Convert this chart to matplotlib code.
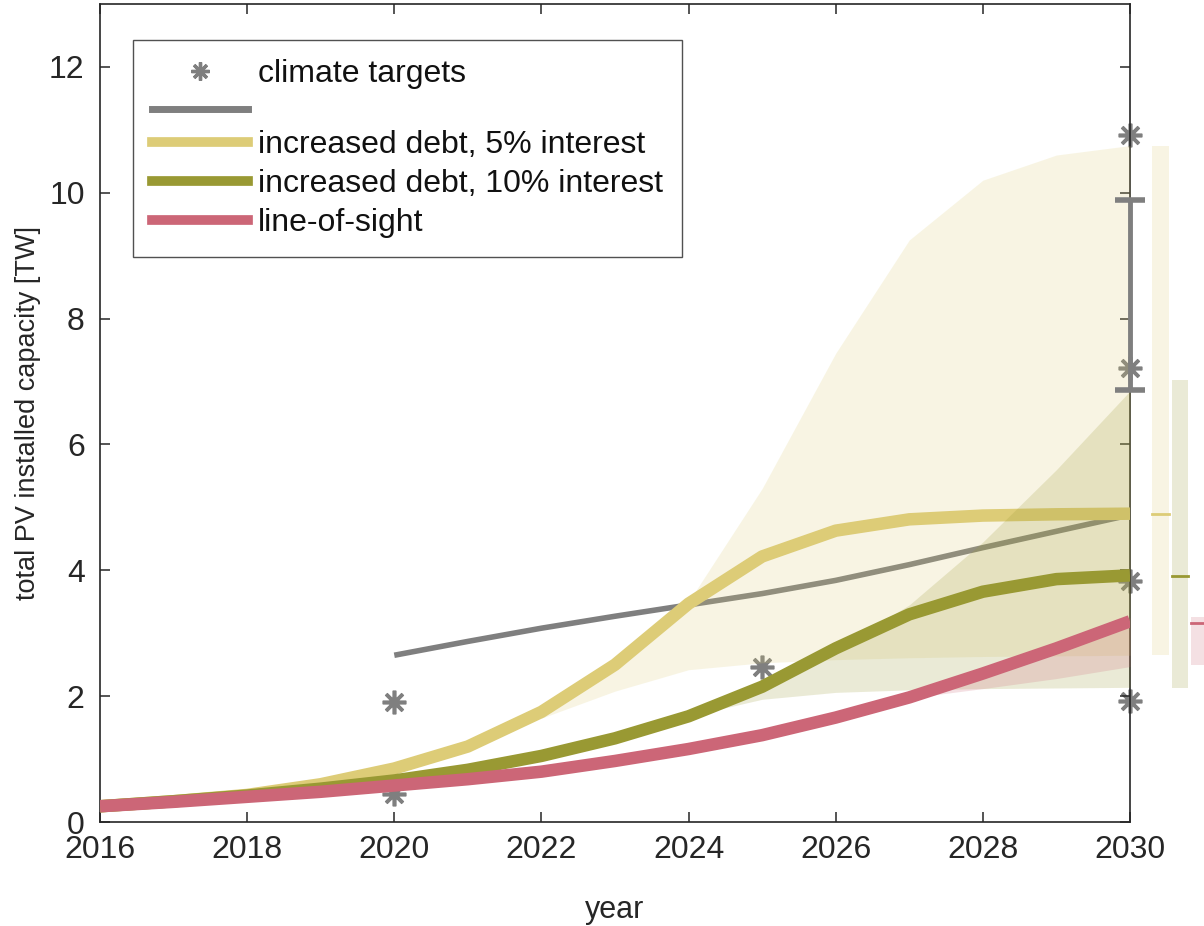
import matplotlib
matplotlib.use('Agg')
import matplotlib.pyplot as plt
from matplotlib.lines import Line2D

plt.rcParams['font.family'] = ['Liberation Sans', 'DejaVu Sans']

# ---------------- data ----------------
years = [2016, 2017, 2018, 2019, 2020, 2021, 2022, 2023, 2024, 2025, 2026, 2027, 2028, 2029, 2030]
debt5 = [0.25, 0.33, 0.43, 0.60, 0.85, 1.20, 1.75, 2.50, 3.47, 4.22, 4.63, 4.81, 4.87, 4.89, 4.90]
debt10 = [0.25, 0.33, 0.42, 0.53, 0.66, 0.83, 1.05, 1.33, 1.68, 2.15, 2.76, 3.30, 3.66, 3.86, 3.92]
line_of_sight = [0.25, 0.32, 0.40, 0.48, 0.58, 0.68, 0.80, 0.97, 1.16, 1.38, 1.66, 1.98, 2.36, 2.76, 3.19]

target_years = [2020, 2021, 2022, 2023, 2024, 2025, 2026, 2027, 2028, 2029, 2030]
target_line = [2.65, 2.87, 3.08, 3.27, 3.45, 3.63, 3.84, 4.09, 4.36, 4.62, 4.88]

star_x = [2020, 2020, 2025, 2030, 2030, 2030, 2030]
star_y = [1.90, 0.45, 2.47, 10.92, 7.22, 3.83, 1.92]

err_x = 2030
err_low = 6.86
err_high = 9.88

band5_x = [2022, 2023, 2024, 2025, 2026, 2027, 2028, 2029, 2030]
band5_lo = [1.65, 2.08, 2.42, 2.53, 2.58, 2.61, 2.63, 2.64, 2.65]
band5_hi = [1.75, 2.48, 3.50, 5.30, 7.45, 9.25, 10.20, 10.60, 10.75]

band10_x = [2024, 2025, 2026, 2027, 2028, 2029, 2030]
band10_lo = [1.68, 1.95, 2.06, 2.10, 2.12, 2.13, 2.14]
band10_hi = [1.70, 2.15, 2.75, 3.45, 4.45, 5.60, 6.85]

bandlos_x = [2027, 2028, 2029, 2030]
bandlos_lo = [1.97, 2.12, 2.28, 2.47]
bandlos_hi = [1.98, 2.36, 2.76, 3.25]

# side range bars (2030 distributions)
side_x0 = [2030.30, 2030.57, 2030.83]
side_x1 = [2030.53, 2030.79, 2031.05]
side_lo = [2.65, 2.13, 2.49]
side_hi = [10.75, 7.03, 3.26]
side_med = [4.90, 3.91, 3.17]

labels = ['climate targets', 'increased debt, 5% interest',
          'increased debt, 10% interest', 'line-of-sight']

# ---------------- style ----------------
c_sand = '#DDCC77'
c_olive = '#999933'
c_rose = '#CC6677'
c_gray = '#7f7f7f'
band_alpha = 0.2
side_colors = [c_sand, c_olive, c_rose]

fig = plt.figure(figsize=(12.04, 9.26), dpi=100)
ax = fig.add_axes([100 / 1204, 104 / 926, 1030 / 1204, 818 / 926])

star_marker = (8, 2, 0)

# climate targets stars (underneath lines)
ax.plot(star_x, star_y, linestyle='none', marker=star_marker, markersize=17,
        markeredgewidth=2.6, color=c_gray, clip_on=False, zorder=1)

# climate target line
ax.plot(target_years, target_line, color=c_gray, lw=4, solid_capstyle='butt', zorder=2)

# yellow band + line
ax.fill_between(band5_x, band5_lo, band5_hi, color=c_sand, alpha=band_alpha, lw=0, zorder=3)
ax.plot(years, debt5, color=c_sand, lw=9, solid_capstyle='butt', zorder=4)
# green band + line
ax.fill_between(band10_x, band10_lo, band10_hi, color=c_olive, alpha=band_alpha, lw=0, zorder=5)
ax.plot(years, debt10, color=c_olive, lw=9, solid_capstyle='butt', zorder=6)
# red band + line
ax.fill_between(bandlos_x, bandlos_lo, bandlos_hi, color=c_rose, alpha=band_alpha, lw=0, zorder=7)
ax.plot(years, line_of_sight, color=c_rose, lw=9, solid_capstyle='butt', zorder=8)

# error bar of targets at 2030
err_mid = (err_low + err_high) / 2
ax.errorbar([err_x], [err_mid], yerr=[[err_mid - err_low], [err_high - err_mid]],
            fmt='none', ecolor=c_gray, elinewidth=3.5, capsize=11, capthick=4,
            clip_on=False, zorder=9)

# side bars outside axes
for x0, x1, lo, hi, med, col in zip(side_x0, side_x1, side_lo, side_hi, side_med, side_colors):
    ax.fill_between([x0, x1], [lo, lo], [hi, hi], color=col, alpha=band_alpha, lw=0,
                    clip_on=False, zorder=2)
    ax.plot([x0, x1], [med, med], color=col, lw=2, clip_on=False, zorder=3)

ax.set_xlim(2016, 2030)
ax.set_ylim(0, 13)
ax.set_xticks(range(2016, 2031, 2))
ax.set_yticks(range(0, 13, 2))
ax.tick_params(direction='in', length=7, width=1.1, color='#262626',
               top=True, right=True, labelsize=23, labelcolor='#262626')
ax.tick_params(axis='x', pad=9)
ax.tick_params(axis='y', pad=11)
for s in ax.spines.values():
    s.set_color('#262626')
    s.set_linewidth(1.2)

ax.set_xlabel('year', fontsize=22, color='#262626', labelpad=22)
ax.set_ylabel('total PV installed capacity [TW]', fontsize=19.5, color='#262626', labelpad=6)

# legend
h_star = Line2D([], [], linestyle='none', marker=star_marker, markersize=13,
                markeredgewidth=2.4, color=c_gray)
h_gray = Line2D([], [], color=c_gray, lw=5)
h5 = Line2D([], [], color=c_sand, lw=7)
h10 = Line2D([], [], color=c_olive, lw=7)
hlos = Line2D([], [], color=c_rose, lw=7)
leg = ax.legend([h_star, h_gray, h5, h10, hlos],
                [labels[0], ' ', labels[1], labels[2], labels[3]],
                loc='upper left', bbox_to_anchor=(0.032, 0.956), borderaxespad=0,
                fontsize=23, handlelength=3.0, handletextpad=0.31, borderpad=0.6,
                labelspacing=0.28, frameon=True, fancybox=False)
leg.get_frame().set_edgecolor('#262626')
leg.get_frame().set_linewidth(1.0)
texts = leg.get_texts()
for t in texts:
    t.set_color('#111111')
texts[1].set_fontsize(4)
leg.set_zorder(20)

fig.savefig('out.png', dpi=100)
